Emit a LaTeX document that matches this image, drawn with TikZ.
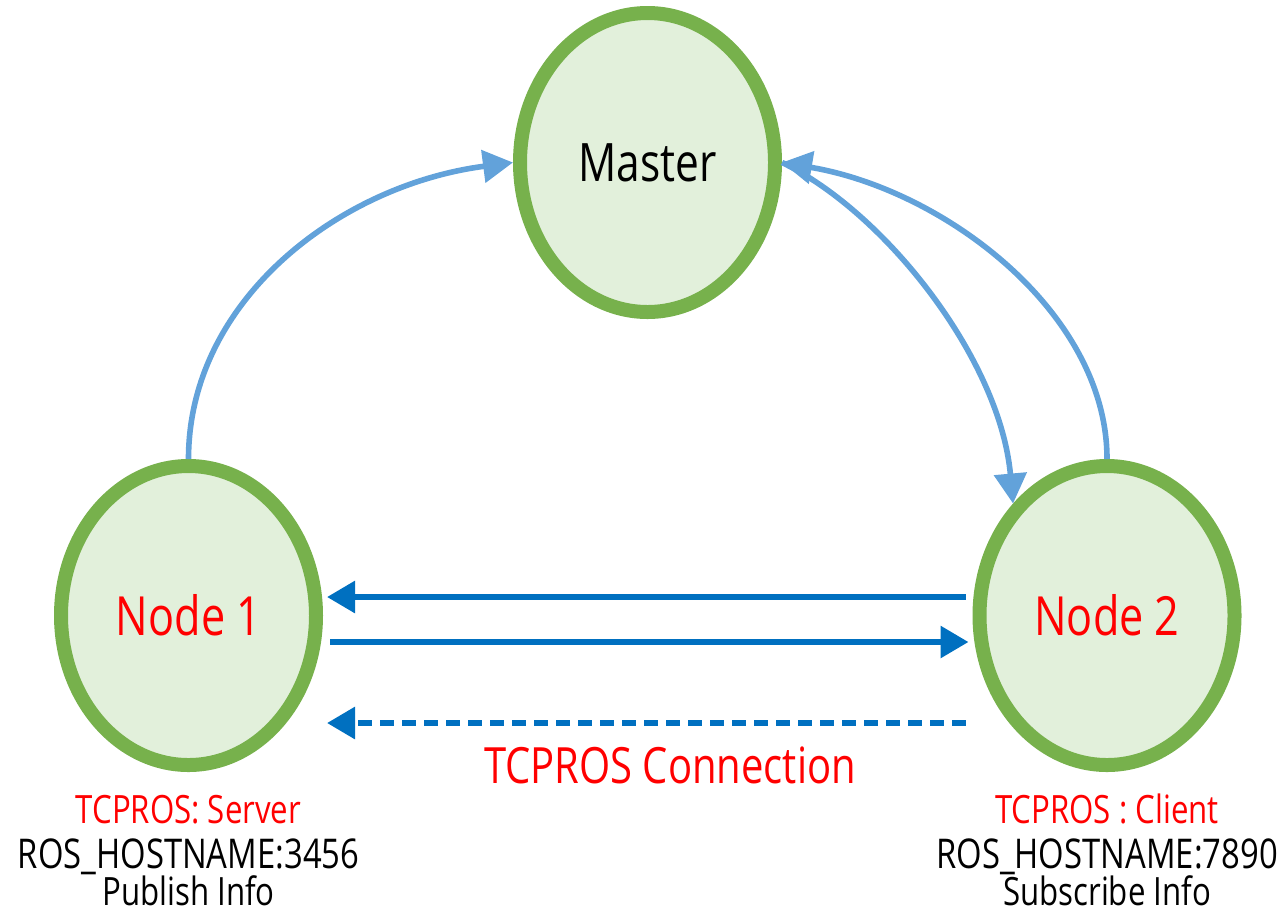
\documentclass[tikz,border=0pt]{standalone}
\usepackage{fontspec}
\setmainfont{Open Sans}[FakeStretch=0.8]
\usetikzlibrary{shapes.geometric,arrows.meta}
\definecolor{ringgreen}{HTML}{77B14C}
\definecolor{ringfill}{HTML}{E2F0DB}
\definecolor{linkblue}{HTML}{62A2DA}
\definecolor{tcpblue}{HTML}{0070C0}
\definecolor{labelred}{HTML}{FF0000}
\tikzset{
  rosnode/.style={ellipse, draw=ringgreen, fill=ringfill, line width=7pt,
    minimum width=127.5pt, minimum height=149.5pt, inner sep=0pt},
  nodetext/.style={text=labelred, font=\fontsize{27}{32}\selectfont},
  mastertext/.style={text=black, font=\fontsize{26.5}{32}\selectfont},
  masterlink/.style={draw=linkblue, line width=2.8pt,
    -{Triangle[length=15pt,width=16pt]}},
  tcplink/.style={draw=tcpblue, line width=3pt,
    -{Triangle[length=14pt,width=15.5pt]}, shorten <=3.5pt, shorten >=2pt},
  caption/.style={anchor=base, inner sep=0pt, font=\fontsize{19.5}{23}\selectfont},
}
\begin{document}
\begin{tikzpicture}[x=0.5pt,y=-0.5pt]
\useasboundingbox (0,0) rectangle (1288,917);

% ROS master and the two nodes
\node[rosnode, mastertext] (master) at (647.5,162.5) {Master};
\node[rosnode, nodetext] (n1) at (188.5,615.5) {Node 1};
\node[rosnode, nodetext] (n2) at (1107,615.5) {Node 2};

% registration with the master
\draw[masterlink] (n1.north) .. controls (188.5,300) and (340,185) .. (master.west);
\draw[masterlink] (n2.north) .. controls (1107,313) and (945,190) .. (master.east);
\draw[masterlink] (master.east) .. controls (885,212) and (1000,359) .. (n2.130);

% direct TCPROS traffic between the nodes
\draw[tcplink] (n2.west |- 0,597) -- (n1.east |- 0,597);
\draw[tcplink] (n1.east |- 0,642) -- (n2.west |- 0,642);
\draw[tcplink, dash pattern=on 7pt off 4pt] (n2.west |- 0,723) -- (n1.east |- 0,723);
\node[anchor=base, inner sep=0pt, text=labelred, font=\fontsize{25}{30}\selectfont]
  (conn) at (670,783) {TCPROS Connection};

% server side
\node[caption, text=labelred] (srvrole) at (n1.south |- 0,823) {TCPROS: Server};
\node[caption, font=\fontsize{20.5}{24}\selectfont] (srvhost) at (n1.south |- 0,868) {ROS\_HOSTNAME:3456};
\node[caption] (srvinfo) at (n1.south |- 0,905) {Publish Info};

% client side
\node[caption, text=labelred] (clirole) at (n2.south |- 0,823) {TCPROS : Client};
\node[caption, font=\fontsize{20.5}{24}\selectfont] (clihost) at (n2.south |- 0,868) {ROS\_HOSTNAME:7890};
\node[caption] (cliinfo) at (n2.south |- 0,905) {Subscribe Info};
\end{tikzpicture}
\end{document}
